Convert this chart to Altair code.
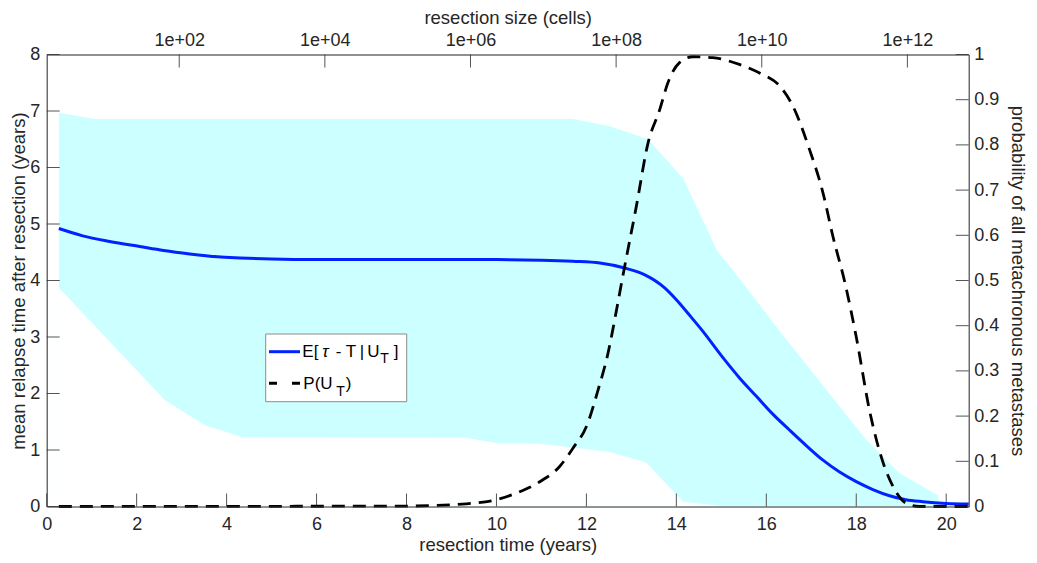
import altair as alt
import pandas as pd

# ---------------- data ----------------
# mean relapse time E[tau - T | U_T] (years) vs resection time (years)
mean_t = [0.27, 0.8, 1.4, 2.07, 2.6, 3.18, 3.8, 4.3, 5.0, 6.0, 8.0, 10.0, 11.0, 11.7,
          12.3, 12.85, 13.3, 13.74, 14.0, 14.3, 14.56, 15.04, 15.4, 15.78, 16.15, 16.52,
          16.9, 17.26, 17.63, 18.0, 18.37, 18.74, 19.1, 19.48, 20.0, 20.5]
mean_y = [4.92, 4.79, 4.69, 4.60, 4.53, 4.47, 4.42, 4.40, 4.38, 4.37, 4.37, 4.37, 4.36, 4.34,
          4.31, 4.22, 4.10, 3.87, 3.66, 3.38, 3.13, 2.63, 2.28, 1.95, 1.63, 1.35,
          1.07, 0.82, 0.61, 0.44, 0.30, 0.19, 0.12, 0.085, 0.055, 0.045]

# shaded band: upper and lower edges
hi_t = [0.27, 1.07, 11.7, 12.52, 13.37, 14.15, 14.92, 15.26, 15.85, 16.3, 18.22, 18.96, 19.82, 19.85]
hi_y = [6.97, 6.86, 6.86, 6.73, 6.50, 5.81, 4.51, 4.18, 3.57, 3.10, 1.18, 0.59, 0.20, 0.0]
lo_t = [0.27, 2.63, 3.52, 4.34, 9.27, 10.04, 10.97, 12.5, 13.33, 14.15, 15.0, 19.85]
lo_y = [3.87, 1.88, 1.44, 1.23, 1.22, 1.12, 1.11, 0.97, 0.78, 0.085, 0.01, 0.0]

# probability P(U_T) (right axis)
p_t = [0.27, 8.0, 9.33, 10.04, 10.5, 11.0, 11.4, 11.7, 12.0, 12.26, 12.48, 12.67, 12.81,
       13.11, 13.37, 13.63, 13.81, 14.07, 14.37, 14.81, 15.4, 15.85, 16.3, 16.59, 16.96,
       17.26, 17.48, 17.76, 18.0, 18.3, 18.6, 18.82, 19.11, 19.4, 20.5]
p_y = [0.0, 0.001, 0.006, 0.016, 0.032, 0.057, 0.088, 0.129, 0.177, 0.258, 0.339, 0.435, 0.51,
       0.664, 0.804, 0.878, 0.937, 0.982, 0.995, 0.993, 0.978, 0.959, 0.93, 0.886, 0.79,
       0.694, 0.598, 0.49, 0.375, 0.21, 0.096, 0.044, 0.007, 0.0, 0.0]

# ticks
time_ticks = [0, 2, 4, 6, 8, 10, 12, 14, 16, 18, 20]
mean_ticks = [0, 1, 2, 3, 4, 5, 6, 7, 8]
prob_ticks = [0, 0.1, 0.2, 0.3, 0.4, 0.5, 0.6, 0.7, 0.8, 0.9, 1]
size_ticks = [2, 4, 6, 8, 10, 12]          # log10(cells)
size_domain = [0.180, 12.842]               # log10(cells) at t = 0 and t = 20.5

# ---------------- styling ----------------
W, H = 922, 452
FONT = "Liberation Sans"
TXT = "#262626"
DOM = "#333333"
TCK = "#555555"
LAB = 18
TIT = 18.5
TL = 13
BLUE = "#0022ff"

common = dict(grid=False, labelFont=FONT, labelFontSize=LAB, labelColor=TXT,
              titleFont=FONT, titleFontSize=TIT, titleFontWeight="normal", titleColor=TXT,
              domainColor=DOM, domainWidth=1, zindex=1, labelFlush=False, labelOverlap=False)


def lab_axis(orient, values, title, **kw):
    return alt.Axis(orient=orient, values=values, ticks=False, tickSize=0, title=title, **common, **kw)


xs = alt.Scale(domain=[0, 20.5], nice=False, zero=False)
ys = alt.Scale(domain=[0, 8], nice=False, zero=False)
ps = alt.Scale(domain=[0, 1], nice=False, zero=False)
ss = alt.Scale(domain=size_domain, nice=False, zero=False)

hi_df = pd.DataFrame({"t": hi_t, "v": hi_y})
lo_df = pd.DataFrame({"t": lo_t, "v": lo_y})
mean_df = pd.DataFrame({"t": mean_t, "v": mean_y})
p_df = pd.DataFrame({"t": p_t, "v": p_y})
size_df = pd.DataFrame({"s": size_ticks})
time_df = pd.DataFrame({"t": time_ticks})
meant_df = pd.DataFrame({"v": mean_ticks})
prob_df = pd.DataFrame({"v": prob_ticks})
one = pd.DataFrame({"k": [0]})

bottom_lab = lab_axis("bottom", time_ticks, "resection time (years)", format="d",
                      labelPadding=23, labelBaseline="alphabetic", labelAlign="center",
                      titleX=W / 2, titleY=44, titleBaseline="alphabetic", titleAlign="center",
                      titleAngle=0)
left_lab = lab_axis("left", mean_ticks, "mean relapse time after resection (years)", format="d",
                    labelPadding=7, labelAlign="right", labelBaseline="middle",
                    titleX=-28.7, titleY=H / 2, titleAngle=270, titleBaseline="middle",
                    titleAlign="center")
right_lab = lab_axis("right", prob_ticks, "probability of all metachronous metastases",
                     format="~g", labelPadding=5, labelAlign="left", labelBaseline="middle",
                     titleX=49, titleY=H / 2, titleAngle=90, titleBaseline="middle",
                     titleAlign="center")
top_lab = lab_axis("top", size_ticks, "resection size (cells)",
                   labelExpr="'1e+' + (datum.value < 10 ? '0' : '') + datum.value",
                   labelPadding=9.5, labelBaseline="alphabetic", labelAlign="center",
                   titleX=W / 2, titleY=-31.5, titleBaseline="alphabetic", titleAlign="center",
                   titleAngle=0)

band_hi = alt.Chart(hi_df).mark_area(color="#ccffff", opacity=1, interpolate="linear").encode(
    x=alt.X("t:Q", scale=xs, axis=bottom_lab),
    y=alt.Y("v:Q", scale=ys, axis=left_lab),
)
band_lo = alt.Chart(lo_df).mark_area(color="white", opacity=1, interpolate="linear").encode(
    x=alt.X("t:Q", scale=xs, axis=None),
    y=alt.Y("v:Q", scale=ys, axis=None),
)

# inward tick marks (MATLAB style)
tick_style = dict(color=TCK, strokeWidth=1)
bottom_ticks = alt.Chart(time_df).mark_rule(**tick_style).encode(
    x=alt.X("t:Q", scale=xs, axis=None), y=alt.value(H), y2=alt.value(H - TL))
left_ticks = alt.Chart(meant_df).mark_rule(**tick_style).encode(
    y=alt.Y("v:Q", scale=ys, axis=None), x=alt.value(0), x2=alt.value(TL))
right_ticks = alt.Chart(prob_df).mark_rule(**tick_style).encode(
    y=alt.Y("v:Q", scale=ps, axis=None), x=alt.value(W - TL), x2=alt.value(W))
top_ticks = alt.Chart(size_df).mark_rule(**tick_style).encode(
    x=alt.X("s:Q", scale=ss, axis=top_lab), y=alt.value(0), y2=alt.value(TL))

mean_line = alt.Chart(mean_df).mark_line(color=BLUE, strokeWidth=3, interpolate="monotone").encode(
    x=alt.X("t:Q", scale=xs, axis=None),
    y=alt.Y("v:Q", scale=ys, axis=None),
)
p_line = alt.Chart(p_df).mark_line(color="black", strokeWidth=2.8, strokeDash=[13, 8],
                                   interpolate="monotone").encode(
    x=alt.X("t:Q", scale=xs, axis=None),
    y=alt.Y("v:Q", scale=ps, axis=right_lab),
)

# ---------------- legend (drawn by hand for the subscripts) ----------------
leg_box = alt.Chart(one).mark_rect(fill="white", stroke="#8c8c8c", strokeWidth=1).encode(
    x=alt.value(219), x2=alt.value(360), y=alt.value(279.5), y2=alt.value(347.2))
leg_blue = alt.Chart(one).mark_rule(color=BLUE, strokeWidth=3).encode(
    x=alt.value(222.3), x2=alt.value(253.3), y=alt.value(297.2))
leg_dash = alt.Chart(one).mark_rule(color="black", strokeWidth=3, strokeDash=[8, 15]).encode(
    x=alt.value(222.3), x2=alt.value(253.3), y=alt.value(328.8))

pieces = [
    ("E[", 255.6, 302.8, 17, "normal"),
    ("τ", 275.5, 302.8, 17, "italic"),
    ("-", 289.0, 302.8, 17, "normal"),
    ("T", 299.0, 302.8, 17, "normal"),
    ("|", 313.0, 302.8, 17, "normal"),
    ("U", 320.5, 302.8, 17, "normal"),
    ("T", 333.5, 308.8, 14, "normal"),
    ("]", 347.0, 302.8, 17, "normal"),
    ("P(U", 256.6, 334.8, 17, "normal"),
    ("T", 289.5, 341.0, 14, "normal"),
    (")", 299.0, 334.8, 17, "normal"),
]
leg_texts = [
    alt.Chart(one).mark_text(align="left", baseline="alphabetic", font=FONT, fontSize=fs,
                             fontStyle=st, color="black").encode(
        x=alt.value(px), y=alt.value(py), text=alt.value(s))
    for (s, px, py, fs, st) in pieces
]

chart = alt.layer(
    band_hi, band_lo, bottom_ticks, left_ticks, right_ticks, top_ticks,
    mean_line, p_line, leg_box, leg_blue, leg_dash, *leg_texts
).resolve_scale(x="independent", y="independent").properties(
    width=W, height=H,
    autosize=alt.AutoSizeParams(type="none"),
    padding={"left": 38.7, "top": 46.5, "right": 60.3, "bottom": 48.5},
).configure_view(stroke=None).configure(background="white")

chart.save("out.html", embed_options={"renderer": "svg", "actions": False})
